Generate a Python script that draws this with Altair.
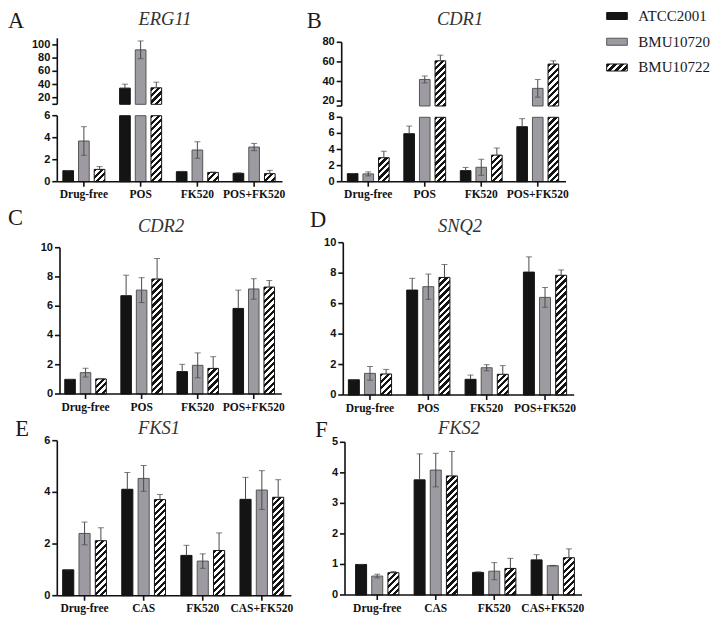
import altair as alt

# ---------------- data ----------------
SERIES = ["ATCC2001", "BMU10720", "BMU10722"]
CATS_POS = ["Drug-free", "POS", "FK520", "POS+FK520"]
CATS_CAS = ["Drug-free", "CAS", "FK520", "CAS+FK520"]

ERG11_MEAN = {"ATCC2001": [1.0, 34.5, 0.91, 0.76],
              "BMU10720": [3.7, 92.5, 2.88, 3.15],
              "BMU10722": [1.12, 35.0, 0.84, 0.73]}
ERG11_SD = {"ATCC2001": [0.0, 6.0, 0.03, 0.05],
            "BMU10720": [1.3, 13.5, 0.75, 0.33],
            "BMU10722": [0.25, 8.5, 0.04, 0.3]}

CDR1_MEAN = {"ATCC2001": [1.0, 5.96, 1.37, 6.83],
             "BMU10720": [0.97, 42.1, 1.79, 33.0],
             "BMU10722": [2.98, 61.1, 3.3, 57.8]}
CDR1_SD = {"ATCC2001": [0.0, 0.95, 0.4, 1.0],
           "BMU10720": [0.25, 3.5, 1.0, 9.0],
           "BMU10722": [0.8, 5.8, 0.88, 3.3]}

CDR2_MEAN = {"ATCC2001": [1.0, 6.72, 1.53, 5.85],
             "BMU10720": [1.46, 7.1, 1.96, 7.18],
             "BMU10722": [1.03, 7.86, 1.75, 7.31]}
CDR2_SD = {"ATCC2001": [0.0, 1.4, 0.5, 1.25],
           "BMU10720": [0.3, 0.85, 0.85, 0.7],
           "BMU10722": [0.02, 1.4, 0.8, 0.45]}

SNQ2_MEAN = {"ATCC2001": [1.0, 6.89, 1.03, 8.07],
             "BMU10720": [1.42, 7.11, 1.79, 6.41],
             "BMU10722": [1.38, 7.72, 1.36, 7.86]}
SNQ2_SD = {"ATCC2001": [0.0, 0.77, 0.28, 1.0],
           "BMU10720": [0.45, 0.83, 0.2, 0.65],
           "BMU10722": [0.3, 0.85, 0.57, 0.35]}

FKS1_MEAN = {"ATCC2001": [1.0, 4.12, 1.56, 3.73],
             "BMU10720": [2.41, 4.54, 1.34, 4.09],
             "BMU10722": [2.13, 3.72, 1.75, 3.81]}
FKS1_SD = {"ATCC2001": [0.0, 0.65, 0.39, 0.85],
           "BMU10720": [0.44, 0.5, 0.28, 0.75],
           "BMU10722": [0.5, 0.2, 0.68, 0.68]}

FKS2_MEAN = {"ATCC2001": [1.0, 3.77, 0.74, 1.15],
             "BMU10720": [0.62, 4.09, 0.78, 0.96],
             "BMU10722": [0.73, 3.9, 0.87, 1.22]}
FKS2_SD = {"ATCC2001": [0.0, 0.85, 0.02, 0.17],
           "BMU10720": [0.06, 0.55, 0.28, 0.01],
           "BMU10722": [0.04, 0.8, 0.33, 0.29]}

# ---------------- style ----------------
W, H = 705, 610
BLACK = "#141414"
AXC = "#111111"
GRAY = "#9d9ba1"
ERRC = "#4a4a4a"
FILL = {"ATCC2001": BLACK, "BMU10720": GRAY}
STROKE = {"ATCC2001": BLACK, "BMU10720": "#555555", "BMU10722": BLACK}
PI, PO = 0.32, 0.47
SERIF = "Liberation Serif"
SANS = "Liberation Sans"
AXW = 1.6


def hatch(w, h, period=6.5):
    """Linear gradient that imitates '///' hatching on a w x h box."""
    L = w + h
    s = L / (w * w + h * h)
    stops = []
    k = 0
    while k * period < L:
        a = k * period / L
        b = min((k + 0.5) * period / L, 1.0)
        c = min((k + 1) * period / L, 1.0)
        stops += [{"offset": a, "color": BLACK}, {"offset": b, "color": BLACK},
                  {"offset": b, "color": "white"}, {"offset": c, "color": "white"}]
        k += 1
    return {"gradient": "linear", "x1": 0, "y1": 0, "x2": s * w, "y2": s * h, "stops": stops}


def segment(cats, means, sds, xr, seg, ax, xy, lower):
    lo, hi, ybot, ytop, ticks = seg["lo"], seg["hi"], seg["ybot"], seg["ytop"], seg["ticks"]
    band = (xr[1] - xr[0]) / len(cats)
    step_b = band / (3 - PI + 2 * PO)
    bw = step_b * (1 - PI)
    recs = []
    for s in SERIES:
        for i, c in enumerate(cats):
            v = means[s][i]
            sd = sds[s][i]
            if not lower and v <= lo:
                continue
            hpx = (min(max(v, lo), hi) - lo) / (hi - lo) * (ybot - ytop)
            fill = FILL.get(s) or hatch(bw, max(hpx, 1.0))
            show = (v <= hi) if lower else True
            recs.append({"cat": c, "series": s, "val": v,
                         "elo": v - sd if s == "BMU10720" else v, "ehi": v + sd,
                         "fill": fill, "stroke": STROKE[s], "show": show})
    data = alt.Data(values=recs)

    xscale = alt.Scale(domain=cats, range=list(xr), paddingInner=0, paddingOuter=0)
    oscale = alt.Scale(domain=SERIES, paddingInner=PI, paddingOuter=PO)
    yscale = alt.Scale(domain=[lo, hi], range=[ybot, ytop], clamp=True, nice=False, zero=False)

    base = alt.Chart(data)
    xe = alt.X("cat:N", scale=xscale, axis=None)
    oe = alt.XOffset("series:N", scale=oscale)
    bars = base.mark_bar(strokeWidth=1).encode(
        x=xe, xOffset=oe,
        y=alt.Y("val:Q", scale=yscale, axis=None),
        y2=alt.Y2("basev:Q"),
        fill=alt.Fill("fill:N", scale=None),
        stroke=alt.Stroke("stroke:N", scale=None),
    ).transform_calculate(basev=str(lo))

    rules = base.mark_rule(color=ERRC, strokeWidth=1).encode(
        x=xe, xOffset=oe,
        y=alt.Y("elo:Q", scale=yscale, axis=None), y2="ehi:Q",
    ).transform_filter("datum.show")
    caps_top = base.mark_tick(color=ERRC, size=6, thickness=1).encode(
        x=xe, xOffset=oe, y=alt.Y("ehi:Q", scale=yscale, axis=None),
    ).transform_filter("datum.show")
    caps_bot = base.mark_tick(color=ERRC, size=6, thickness=1).encode(
        x=xe, xOffset=oe, y=alt.Y("elo:Q", scale=yscale, axis=None),
    ).transform_filter("datum.show && datum.series == 'BMU10720'")

    # ---- y axis drawn through the y scale ----
    tick_recs = [{"t": t, "lab": ("" if (not lower and t == lo) else str(t))} for t in ticks]
    tdata = alt.Data(values=tick_recs)
    ydom = alt.Chart(alt.Data(values=[{"a": lo, "b": hi}])).mark_rule(
        color=AXC, strokeWidth=AXW).encode(
        x=alt.value(ax), y=alt.Y("a:Q", scale=yscale, axis=None), y2="b:Q")
    ytk = alt.Chart(tdata).mark_rule(color=AXC, strokeWidth=AXW).encode(
        x=alt.value(ax - 5), x2=alt.value(ax),
        y=alt.Y("t:Q", scale=yscale, axis=None))
    ylab = alt.Chart(tdata).mark_text(
        font=SANS, fontWeight="bold", fontSize=11, color=AXC,
        align="right", baseline="middle").encode(
        x=alt.value(ax - 7), y=alt.Y("t:Q", scale=yscale, axis=None), text="lab:N")
    parts = [bars, rules, caps_top, caps_bot, ydom, ytk, ylab]

    if lower:
        cdata = alt.Data(values=[{"cat": c} for c in cats])
        xdom = alt.Chart(alt.Data(values=[{"a": lo}])).mark_rule(
            color=AXC, strokeWidth=AXW).encode(
            x=alt.value(ax), x2=alt.value(xr[1]),
            y=alt.Y("a:Q", scale=yscale, axis=None))
        xtk = alt.Chart(cdata).mark_rule(color=AXC, strokeWidth=AXW).encode(
            x=xe, y=alt.value(xy), y2=alt.value(xy + 5))
        xlab = alt.Chart(cdata).mark_text(
            font=SERIF, fontWeight="bold", fontSize=11.5, color=AXC,
            align="center", baseline="alphabetic").encode(
            x=xe, y=alt.value(xy + 16.5), text="cat:N")
        parts += [xdom, xtk, xlab]
    return alt.layer(*parts)


def label(txt, x, y, size, style="normal", color="#1a1a1a", align="center"):
    return alt.Chart(alt.Data(values=[{"t": txt}])).mark_text(
        font=SERIF, fontSize=size, fontStyle=style, color=color, align=align,
        baseline="alphabetic").encode(text="t:N", x=alt.value(x), y=alt.value(y))


layers = []
# Panel A (broken axis)
layers.append(segment(CATS_POS, ERG11_MEAN, ERG11_SD, (47.5, 274.5),
                      dict(lo=0, hi=6, ybot=173.7, ytop=107.7, ticks=[0, 2, 4, 6]),
                      49.3, 173.7, True))
layers.append(segment(CATS_POS, ERG11_MEAN, ERG11_SD, (47.5, 274.5),
                      dict(lo=10, hi=110, ybot=96.3, ytop=30.3, ticks=[10, 20, 40, 60, 80, 100]),
                      49.3, 173.7, False))
# Panel B (broken axis)
layers.append(segment(CATS_POS, CDR1_MEAN, CDR1_SD, (332, 558),
                      dict(lo=0, hi=8, ybot=173.7, ytop=109.3, ticks=[0, 2, 4, 6, 8]),
                      333.7, 173.7, True))
layers.append(segment(CATS_POS, CDR1_MEAN, CDR1_SD, (332, 558),
                      dict(lo=15, hi=80, ybot=98, ytop=34.3, ticks=[15, 20, 40, 60, 80]),
                      333.7, 173.7, False))
# Panel C
layers.append(segment(CATS_POS, CDR2_MEAN, CDR2_SD, (49.5, 273.8),
                      dict(lo=0, hi=10, ybot=386, ytop=239.7, ticks=[0, 2, 4, 6, 8, 10]),
                      52, 386, True))
# Panel D
layers.append(segment(CATS_POS, SNQ2_MEAN, SNQ2_SD, (332.8, 566.2),
                      dict(lo=0, hi=10, ybot=387, ytop=234.7, ticks=[0, 2, 4, 6, 8, 10]),
                      335.3, 387, True))
# Panel E
layers.append(segment(CATS_CAS, FKS1_MEAN, FKS1_SD, (47, 283.4),
                      dict(lo=0, hi=6, ybot=587.7, ytop=432.7, ticks=[0, 2, 4, 6]),
                      49.3, 587.7, True))
# Panel F
layers.append(segment(CATS_CAS, FKS2_MEAN, FKS2_SD, (340, 574),
                      dict(lo=0, hi=5, ybot=587, ytop=434.3, ticks=[0, 1, 2, 3, 4, 5]),
                      337, 587, True))

# Legend
leg_recs = [{"series": s, "fill": FILL.get(s) or hatch(20.6, 7, 7.0), "stroke": STROKE[s]}
            for s in SERIES]
lscale = alt.Scale(domain=SERIES, range=[4.5, 63], paddingInner=0.728, paddingOuter=0)
leg_rect = alt.Chart(alt.Data(values=leg_recs)).mark_rect(strokeWidth=1).encode(
    y=alt.Y("series:N", scale=lscale, axis=None),
    x=alt.value(598.7), x2=alt.value(619.3),
    fill=alt.Fill("fill:N", scale=None),
    stroke=alt.Stroke("stroke:N", scale=None),
)
leg_text = alt.Chart(alt.Data(values=leg_recs)).mark_text(
    font=SERIF, fontSize=15, align="left", baseline="middle", color="#1a1a1a").encode(
    y=alt.Y("series:N", scale=lscale, axis=None),
    x=alt.value(630.3), text="series:N")
layers.append(alt.layer(leg_rect, leg_text))

# Titles and panel letters
for txt, x, y in [("ERG11", 157, 16.8), ("CDR1", 452, 16.8), ("CDR2", 153, 223.7),
                  ("SNQ2", 452, 223.7), ("FKS1", 151, 426.3), ("FKS2", 451, 426.3)]:
    layers.append(label(txt, x, y, 18.5, style="italic", color="#333333"))
for txt, x, y in [("A", 8.2, 20.3), ("B", 306.3, 20.3), ("C", 7.6, 217),
                  ("D", 310, 218.7), ("E", 14, 428), ("F", 313.5, 429.3)]:
    layers.append(label(txt, x, y, 22.5))

chart = alt.layer(*layers).resolve_scale(
    x="independent", y="independent", xOffset="independent"
).properties(
    width=W, height=H, padding=0,
    autosize=alt.AutoSizeParams(type="none"),
    background="white",
).configure_view(stroke=None)

chart.save("out.html", embed_options={"renderer": "svg", "actions": False})
